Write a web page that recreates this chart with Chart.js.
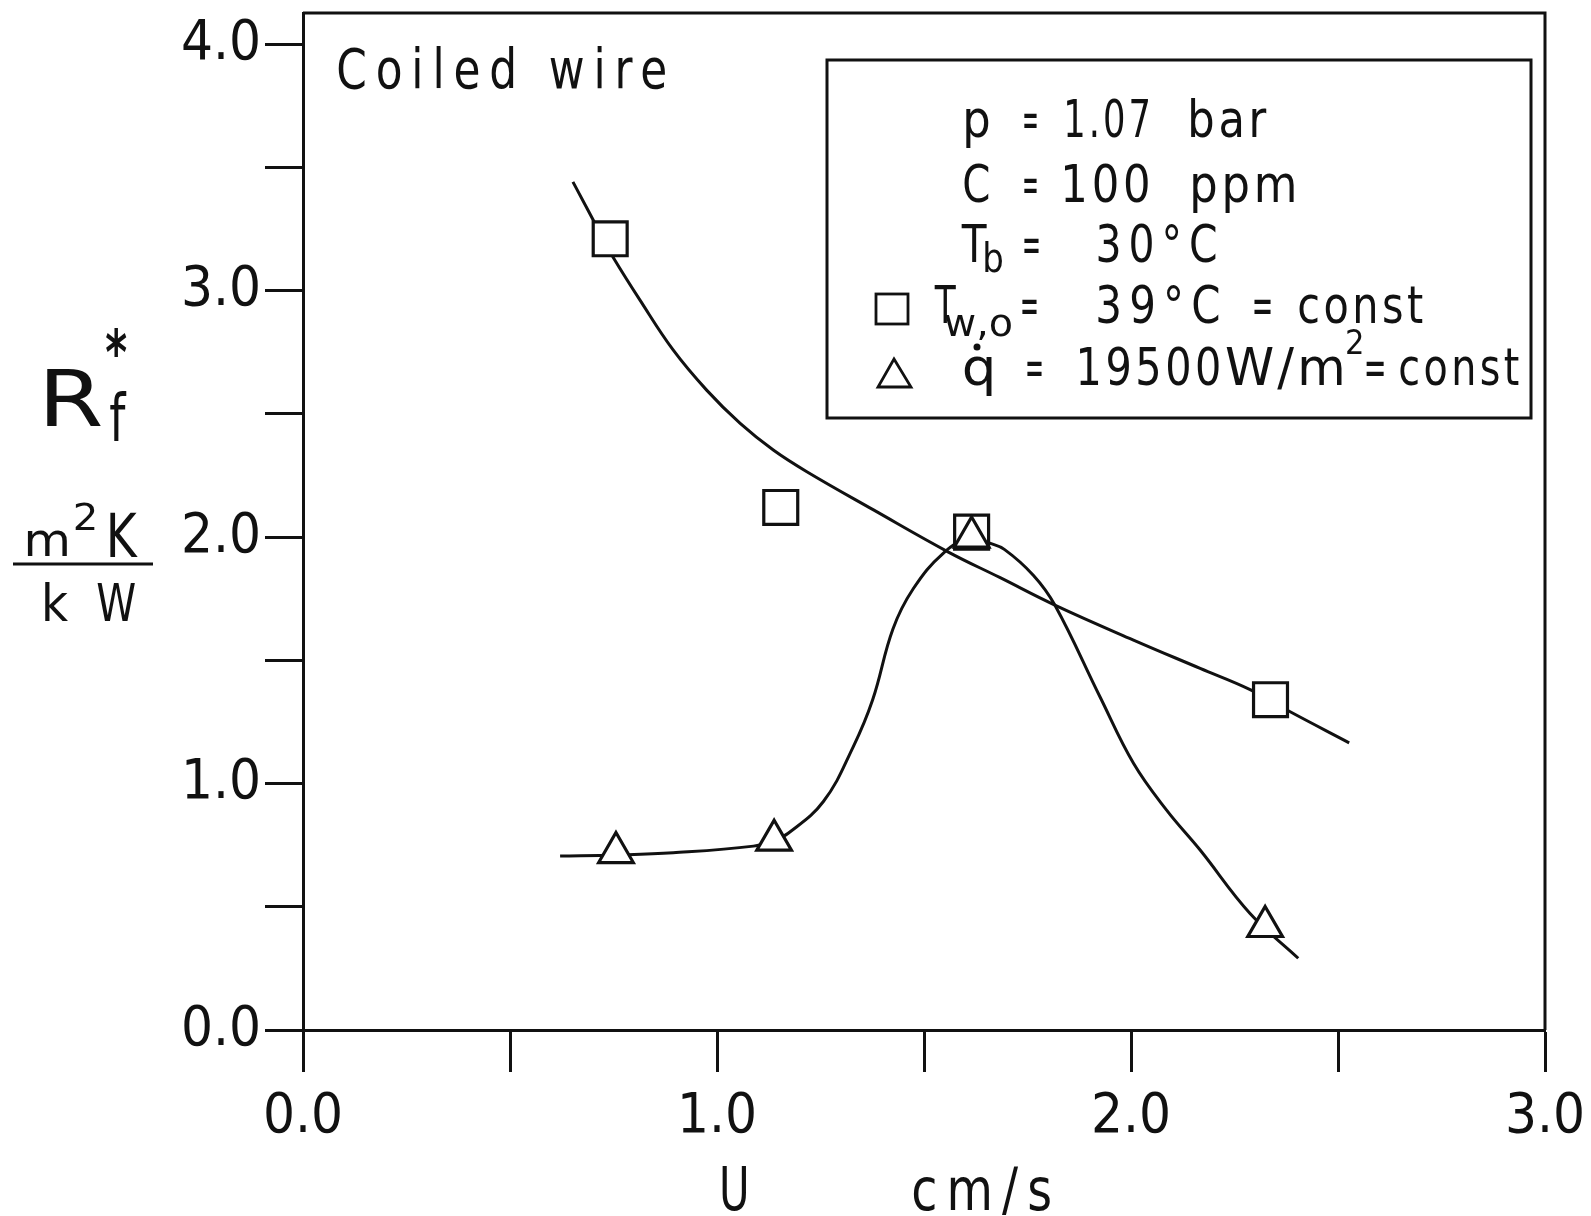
<!DOCTYPE html>
<html>
<head>
<meta charset="utf-8">
<script src="https://cdn.jsdelivr.net/npm/chart.js@4.4.1/dist/chart.umd.min.js"></script>
<style>
  html, body { margin: 0; padding: 0; background: #fff; }
  #wrap { width: 1591px; height: 1216px; position: relative; }
</style>
</head>
<body>
<div id="wrap"><canvas id="grafico"></canvas></div>
<script>
const sqU = [0.742, 1.154, 1.615, 2.337];
const sqR = [3.21, 2.12, 2.02, 1.34];
const triU = [0.756, 1.138, 1.615, 2.324];
const triR = [0.72, 0.77, 2.00, 0.42];

// hand drawn fit curves
const sqFitU = [0.652, 0.725, 0.749, 0.814, 0.894, 0.975, 1.056, 1.136, 1.217, 1.378, 1.559, 1.684, 1.816, 2.006, 2.167, 2.289, 2.380, 2.527];
const sqFitR = [3.441, 3.21, 3.135, 2.961, 2.759, 2.596, 2.461, 2.353, 2.265, 2.110, 1.939, 1.835, 1.724, 1.582, 1.467, 1.380, 1.295, 1.165];
const triFitU = [0.621, 0.756, 0.894, 1.088, 1.138, 1.172, 1.257, 1.329, 1.376, 1.425, 1.474, 1.547, 1.615, 1.657, 1.694, 1.764, 1.816, 1.925, 2.006, 2.086, 2.167, 2.287, 2.404];
const triFitR = [0.706, 0.710, 0.719, 0.746, 0.770, 0.798, 0.927, 1.149, 1.340, 1.627, 1.790, 1.935, 2.00, 1.976, 1.950, 1.845, 1.724, 1.352, 1.082, 0.892, 0.730, 0.474, 0.291];

const xTicks = [0, 0.5, 1.0, 1.5, 2.0, 2.5, 3.0];
const yTicks = [0, 0.5, 1.0, 1.5, 2.0, 2.5, 3.0, 3.5, 4.0];

const FONT = "'Liberation Sans Narrow', 'DejaVu Sans Condensed', 'Arial Narrow', sans-serif";
const INK = '#111';

function pts(xs, ys) {
  return xs.map((x, i) => ({ x: x, y: ys[i] }));
}

// draw text so that its ink runs from x0 to x1 (plotter lettering is narrow)
function fit(ctx, s, x0, x1, y, size, spacing, weight) {
  ctx.font = (weight || 'normal') + ' ' + size + 'px ' + FONT;
  ctx.letterSpacing = (spacing || 0) + 'px';
  const m = ctx.measureText(s);
  const ink = m.actualBoundingBoxLeft + m.actualBoundingBoxRight;
  const sx = (x1 - x0) / ink;
  ctx.save();
  ctx.translate(x0 + m.actualBoundingBoxLeft * sx, y);
  ctx.scale(sx, 1);
  ctx.fillText(s, 0, 0);
  ctx.restore();
  ctx.letterSpacing = '0px';
}

// frame, legend box and all the labels
const decor = {
  id: 'decor',
  afterDraw(chart) {
    const ctx = chart.ctx;
    const a = chart.chartArea;
    ctx.save();
    ctx.strokeStyle = INK;
    ctx.fillStyle = INK;
    ctx.lineWidth = 3;
    ctx.textAlign = 'left';
    ctx.textBaseline = 'alphabetic';

    // top and right frame
    ctx.beginPath();
    ctx.moveTo(a.left, a.top);
    ctx.lineTo(a.right, a.top);
    ctx.lineTo(a.right, a.bottom);
    ctx.stroke();

    fit(ctx, 'Coiled wire', 338, 665, 88, 55, 10);

    // legend box
    ctx.strokeRect(827, 60, 704, 358);
    const L = 52;
    fit(ctx, 'p', 966, 989, 137, L);
    fit(ctx, '=', 1024, 1037, 137, L);
    fit(ctx, '1.07', 1067, 1148, 137, L, 4);
    fit(ctx, 'bar', 1191, 1267, 137, L, 4);

    fit(ctx, 'C', 964, 989, 202, L);
    fit(ctx, '=', 1024, 1037, 202, L);
    fit(ctx, '100', 1065, 1148, 202, L, 4);
    fit(ctx, 'ppm', 1193, 1294, 202, L, 4);

    fit(ctx, 'T', 961, 987, 262, L);
    fit(ctx, 'b', 985, 1002, 272, 40);
    fit(ctx, '=', 1024, 1039, 262, L);
    fit(ctx, '30°C', 1098, 1216, 262, L, 8);

    ctx.lineWidth = 2.8;
    ctx.strokeRect(876, 294, 32, 30);
    fit(ctx, 'T', 934, 956, 323, L);
    fit(ctx, 'w,o', 945, 1012, 336, 38);
    fit(ctx, '=', 1022, 1037, 323, L);
    fit(ctx, '39°C', 1098, 1219, 323, L, 8);
    fit(ctx, '=', 1254, 1271, 323, L);
    fit(ctx, 'const', 1299, 1423, 323, L, 4);

    ctx.beginPath();
    ctx.moveTo(894, 359);
    ctx.lineTo(911, 387);
    ctx.lineTo(878, 387);
    ctx.closePath();
    ctx.stroke();
    fit(ctx, 'q', 964, 992, 385, L);
    ctx.beginPath();
    ctx.arc(977, 347, 3.5, 0, Math.PI * 2);
    ctx.fill();
    fit(ctx, '=', 1027, 1042, 385, L);
    fit(ctx, '19500', 1080, 1219, 385, L, 4);
    fit(ctx, 'W/m', 1226, 1342, 385, L, 3);
    fit(ctx, '2', 1347, 1362, 354, 34);
    fit(ctx, '=', 1366, 1384, 385, L);
    fit(ctx, 'const', 1400, 1519, 385, L, 4);

    // y title
    fit(ctx, 'R', 46, 101, 426, 78);
    fit(ctx, '*', 106, 127, 374, 62, 0, 'bold');
    fit(ctx, 'f', 110, 127, 441, 66);
    fit(ctx, 'm', 27, 67, 556, 46);
    fit(ctx, '2', 75, 95, 530, 38);
    fit(ctx, 'K', 110, 138, 557, 60);
    ctx.lineWidth = 3;
    ctx.beginPath();
    ctx.moveTo(13, 564);
    ctx.lineTo(153, 564);
    ctx.stroke();
    fit(ctx, 'k', 45, 68, 621, 52);
    fit(ctx, 'W', 97, 135, 621, 52);

    // x title
    fit(ctx, 'U', 722, 746, 1210, 60);
    fit(ctx, 'cm/s', 913, 1050, 1210, 58, 10);
    ctx.restore();
  }
};

const tickLabel = v => Number.isInteger(v) ? v.toFixed(1) : '';

new Chart(document.getElementById('grafico'), {
  type: 'scatter',
  data: {
    datasets: [
      {
        data: pts(triU, triR),
        pointStyle: 'triangle',
        pointRadius: 20,
        backgroundColor: '#fff',
        borderColor: INK,
        borderWidth: 3.2,
        showLine: false
      },
      {
        data: pts(sqU, sqR),
        pointStyle: 'rect',
        pointRadius: 24,
        backgroundColor: '#fff',
        borderColor: INK,
        borderWidth: 3.2,
        showLine: false
      },
      {
        data: pts(sqFitU, sqFitR),
        showLine: true,
        pointRadius: 0,
        borderColor: INK,
        borderWidth: 3,
        tension: 0.4,
        fill: false
      },
      {
        data: pts(triFitU, triFitR),
        showLine: true,
        pointRadius: 0,
        borderColor: INK,
        borderWidth: 3,
        tension: 0.4,
        fill: false
      }
    ]
  },
  options: {
    responsive: true,
    maintainAspectRatio: false,
    animation: false,
    layout: { autoPadding: false, padding: { top: 13, right: 46, left: 0, bottom: 0 } },
    plugins: {
      legend: { display: false },
      tooltip: { enabled: false }
    },
    scales: {
      x: {
        type: 'linear',
        min: 0,
        max: 3,
        afterBuildTicks: s => { s.ticks = xTicks.map(v => ({ value: v })); },
        afterFit: s => { s.height = 186; s.paddingLeft = 0; s.paddingRight = 0; },
        ticks: {
          callback: tickLabel,
          font: { family: FONT, size: 56 },
          color: INK,
          padding: 12,
          maxRotation: 0,
          autoSkip: false
        },
        grid: { drawOnChartArea: false, drawTicks: true, tickLength: 42, tickWidth: 3, tickColor: INK },
        border: { display: true, width: 3, color: INK }
      },
      y: {
        type: 'linear',
        min: 0,
        max: 4.126,
        afterBuildTicks: s => { s.ticks = yTicks.map(v => ({ value: v })); },
        afterFit: s => { s.width = 303; s.paddingTop = 0; s.paddingBottom = 0; },
        ticks: {
          callback: tickLabel,
          font: { family: FONT, size: 56 },
          color: INK,
          padding: 4,
          autoSkip: false
        },
        grid: { drawOnChartArea: false, drawTicks: true, tickLength: 38, tickWidth: 3, tickColor: INK },
        border: { display: true, width: 3, color: INK }
      }
    }
  },
  plugins: [decor]
});
</script>
</body>
</html>
